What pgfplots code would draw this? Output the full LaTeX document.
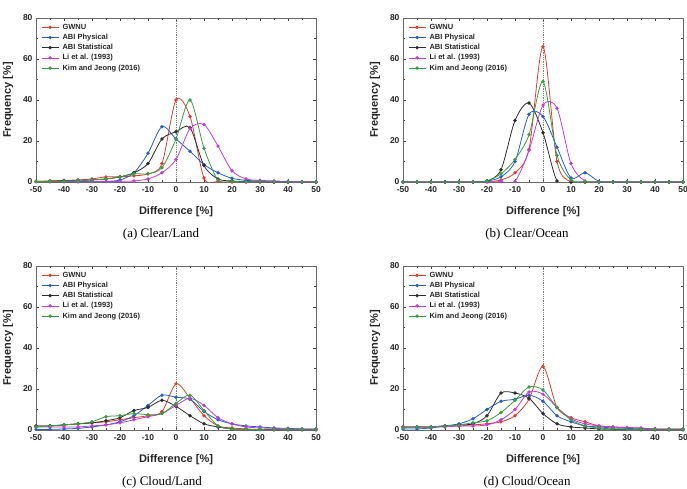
\documentclass[border=0pt]{standalone}
\usepackage{fontspec}
\setmainfont{Liberation Sans}
\newfontfamily\capfont{Liberation Serif}
\usepackage{pgfplots}
\usepackage{pgfplotstable}
\pgfplotsset{compat=1.18}

\definecolor{cGW}{RGB}{232,58,44}
\definecolor{cPhy}{RGB}{35,95,205}
\definecolor{cSta}{RGB}{45,45,45}
\definecolor{cLi}{RGB}{195,60,220}
\definecolor{cKim}{RGB}{55,160,65}
\definecolor{frame}{RGB}{105,105,105}

% Frequency distributions of the relative difference, one table per scene type
\pgfplotstableread{
x    gw    phy   sta   li    kim
-50  0.3   0.2   0.3   0.1   0.2
-45  0.5   0.2   0.4   0.1   0.3
-40  0.8   0.2   0.6   0.1   0.5
-35  1.0   0.2   0.8   0.1   0.7
-30  1.5   0.2   1.0   0.2   1.0
-25  2.5   0.3   1.5   0.2   1.5
-20  2.5   1.0   2.5   0.3   2.5
-15  3.0   4.5   4.5   0.5   4.0
-10  4.0   14.0  9.0   1.5   4.0
-5   9.0   27.0  21.0  4.5   7.0
0    40.0  21.0  24.5  11.0  21.0
5    32.0  15.0  26.5  26.0  40.0
10   2.0   8.5   8.0   28.0  16.5
15   0.2   4.5   1.5   17.5  1.0
20   0.0   1.8   0.5   5.5   0.3
25   0.0   0.8   0.2   1.5   0.1
30   0.0   0.5   0.1   0.8   0.1
35   0.0   0.3   0.0   0.5   0.0
40   0.0   0.2   0.0   0.3   0.0
45   0.0   0.1   0.0   0.2   0.0
50   0.0   0.1   0.0   0.1   0.0
}\clearland

\pgfplotstableread{
x    gw    phy   sta   li    kim
-50  0.0   0.0   0.0   0.0   0.0
-45  0.0   0.0   0.0   0.0   0.0
-40  0.0   0.0   0.0   0.0   0.0
-35  0.0   0.0   0.0   0.0   0.0
-30  0.0   0.0   0.0   0.0   0.0
-25  0.0   0.0   0.0   0.0   0.0
-20  0.2   0.5   0.5   0.0   0.5
-15  1.0   2.5   6.0   0.2   4.0
-10  4.5   10.0  30.0  0.3   11.0
-5   16.0  33.0  38.5  15.5  23.0
0    66.0  32.0  24.0  37.5  49.0
5    10.0  17.0  0.5   36.0  13.0
10   0.0   2.0   0.0   9.0   1.0
15   0.0   4.5   0.0   0.5   0.2
20   0.0   0.3   0.0   0.0   0.0
25   0.0   0.0   0.0   0.0   0.0
30   0.0   0.0   0.0   0.0   0.0
35   0.0   0.0   0.0   0.0   0.0
40   0.0   0.0   0.0   0.0   0.0
45   0.0   0.0   0.0   0.0   0.0
50   0.0   0.0   0.0   0.0   0.0
}\clearocean

\pgfplotstableread{
x    gw    phy   sta   li    kim
-50  2.0   0.3   2.0   1.5   1.5
-45  2.0   0.3   2.0   1.5   2.0
-40  2.5   0.5   2.5   1.5   2.5
-35  3.0   0.8   3.0   1.5   3.0
-30  3.5   1.5   3.5   2.0   4.0
-25  4.0   2.5   4.5   2.5   6.5
-20  5.0   4.0   6.0   3.5   7.0
-15  6.0   7.0   9.5   5.0   8.0
-10  7.0   12.0  11.0  6.5   7.5
-5   9.0   17.0  14.5  8.0   8.0
0    22.5  16.0  11.5  12.0  13.0
5    15.5  15.0  7.0   15.5  17.0
10   7.0   9.0   3.0   12.0  9.5
15   2.0   5.0   1.5   6.0   2.0
20   1.0   3.0   0.5   3.0   0.5
25   0.5   2.0   0.3   1.5   0.3
30   0.3   1.5   0.2   1.0   0.2
35   0.2   1.0   0.1   0.8   0.1
40   0.2   0.8   0.1   0.5   0.1
45   0.2   0.5   0.1   0.5   0.1
50   0.2   0.5   0.1   0.5   0.1
}\cloudland

\pgfplotstableread{
x    gw    phy   sta   li    kim
-50  1.5   0.5   1.5   1.5   1.0
-45  1.5   0.5   1.5   1.5   1.5
-40  1.5   1.0   1.5   1.5   1.5
-35  2.0   2.0   2.0   1.5   2.0
-30  2.0   3.0   2.5   2.0   2.5
-25  2.5   5.5   3.0   2.0   3.5
-20  3.0   10.0  7.0   2.5   4.5
-15  4.0   14.0  18.0  5.0   8.5
-10  7.0   15.0  18.0  10.0  14.5
-5   15.0  17.0  15.5  18.5  21.0
0    31.0  14.0  8.0   17.5  19.5
5    11.0  7.0   3.0   11.0  11.0
10   6.0   4.0   1.5   5.5   5.0
15   4.0   2.0   1.0   3.0   2.0
20   2.0   1.5   0.5   2.0   1.0
25   1.5   1.0   0.3   1.5   0.5
30   1.2   0.8   0.2   1.2   0.3
35   0.8   0.5   0.1   1.0   0.2
40   0.5   0.3   0.1   0.5   0.1
45   0.5   0.2   0.1   0.5   0.1
50   0.5   0.2   0.1   0.5   0.1
}\cloudocean

\pgfplotsset{
  panel/.style={
    scale only axis, width=280pt, height=164pt,
    xmin=-50, xmax=50, ymin=0, ymax=80,
    xtick={-50,-40,...,50}, ytick={0,20,...,80},
    minor xtick={-45,-35,...,45}, minor ytick={10,30,50,70},
    tick align=inside, major tick length=3pt, minor tick length=2pt,
    axis line style={frame, line width=0.8pt},
    every tick/.style={black!75, line width=0.6pt},
    /pgf/number format/assume math mode=true,
    ticklabel style={font=\fontsize{8.5}{10}\selectfont\bfseries, text=black!85},
    xticklabel style={yshift=-1pt},
    xlabel={Difference [\%]}, ylabel={Frequency [\%]},
    label style={font=\fontsize{11}{13}\selectfont\bfseries, text=black!85},
    xlabel style={at={(axis description cs:0.5,-0.183)}, anchor=center},
    ylabel style={at={(axis description cs:-0.1,0.5)}, anchor=center},
    legend style={draw=none, fill=none, inner sep=0pt,
      at={(axis description cs:0,1)}, anchor=north west,
      xshift=5pt, yshift=-4.5pt,
      font=\fontsize{7.5}{8}\selectfont\bfseries, text=black!85,
      nodes={inner sep=1pt, text height=5.6pt, text depth=1.6pt},
      row sep=1pt, column sep=2.5pt},
    legend cell align=left,
    every axis plot/.append style={smooth, line width=0.8pt, mark=*, mark size=1.3pt},
  },
  zero line/.style={forget plot, densely dotted, gray, line width=0.6pt, no marks, sharp plot},
}

\newcommand{\fivecurves}[1]{%
  \addplot[zero line] coordinates {(0,0) (0,80)};
  \addplot[cGW,  mark options={fill=cGW}]  table[x=x, y=gw]  {#1};
  \addplot[cPhy, mark options={fill=cPhy}] table[x=x, y=phy] {#1};
  \addplot[cSta, mark options={fill=cSta}] table[x=x, y=sta] {#1};
  \addplot[cLi,  mark options={fill=cLi}]  table[x=x, y=li]  {#1};
  \addplot[cKim, mark options={fill=cKim}] table[x=x, y=kim] {#1};
  \legend{GWNU, ABI Physical, ABI Statistical, Li et al. (1993), Kim and Jeong (2016)}
}

\begin{document}
\begin{tikzpicture}
\begin{axis}[panel, at={(36pt,307pt)}, anchor=south west]
  \fivecurves{\clearland}
\end{axis}
\begin{axis}[panel, at={(403pt,307pt)}, anchor=south west]
  \fivecurves{\clearocean}
\end{axis}
\begin{axis}[panel, at={(36pt,59pt)}, anchor=south west]
  \fivecurves{\cloudland}
\end{axis}
\begin{axis}[panel, at={(403pt,59pt)}, anchor=south west]
  \fivecurves{\cloudocean}
\end{axis}
\node[font=\capfont\fontsize{13}{15}\selectfont] at (161pt,255pt) {(a) Clear/Land};
\node[font=\capfont\fontsize{13}{15}\selectfont] at (527pt,255pt) {(b) Clear/Ocean};
\node[font=\capfont\fontsize{13}{15}\selectfont] at (162pt,7pt) {(c) Cloud/Land};
\node[font=\capfont\fontsize{13}{15}\selectfont] at (527pt,7pt) {(d) Cloud/Ocean};
\pgfresetboundingbox
\path[use as bounding box] (0pt,0pt) rectangle (687pt,489pt);
\end{tikzpicture}
\end{document}
